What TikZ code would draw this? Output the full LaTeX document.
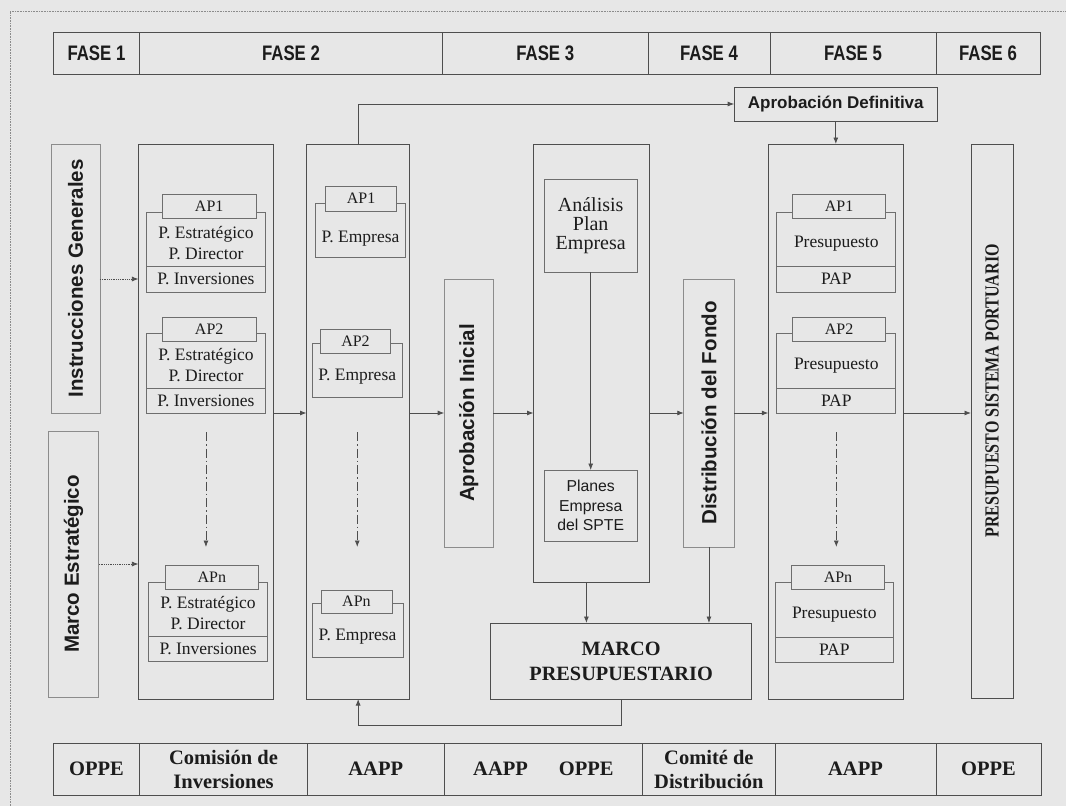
\documentclass[tikz,border=0pt]{standalone}
\usepackage{fontspec}
\setmainfont{Liberation Serif}
\setsansfont{Liberation Sans}
\newfontfamily\condsans[FakeStretch=0.8]{Liberation Sans}
\newfontfamily\condserif[FakeStretch=0.8]{Liberation Serif}
\usetikzlibrary{arrows.meta}

\definecolor{paper}{HTML}{E7E7E7}
\definecolor{ink}{HTML}{1C1C1C}
\definecolor{edge}{HTML}{4E4E4E}
\definecolor{softedge}{HTML}{6E6E6E}
\definecolor{paleedge}{HTML}{8C8C8C}

\tikzset{
  % rectangle given by its corners (x1,y1) (x2,y2)
  rect/.style n args={4}{rectangle, inner sep=0pt, outer sep=0pt,
    minimum width={#3pt-#1pt}, minimum height={#4pt-#2pt},
    at={({(#1+#3)/2},{(#2+#4)/2})}},
  cell/.style={draw=edge, line width=0.9pt, text=ink},
  column/.style={draw=edge, line width=0.9pt},
  pale/.style={draw=paleedge, line width=0.8pt},
  sub/.style={draw=softedge, line width=0.8pt, text=ink,
    font=\fontsize{17.5}{20.5}\selectfont},
  tabbox/.style={draw=softedge, fill=paper, line width=0.8pt,
    text=ink, font=\fontsize{16}{18}\selectfont},
  plan/.style={inner sep=0pt, align=center, text=ink,
    font=\fontsize{17.5}{20.5}\selectfont},
  hdr/.style={cell, font=\condsans\bfseries\fontsize{21}{24}\selectfont},
  who/.style={cell, align=center, font=\bfseries\fontsize{20.5}{24}\selectfont},
  vlab/.style={rotate=90, inner sep=0pt, text=ink,
    font=\sffamily\bfseries\fontsize{20.5}{24}\selectfont},
  flow/.style={draw=edge, line width=0.8pt, -{Latex[length=6.5pt,width=5pt]}},
  dotflow/.style={flow, densely dotted},
  dashflow/.style={flow, dash pattern=on 9pt off 3pt on 1.5pt off 3pt},
}

\begin{document}
\begin{tikzpicture}[x=1pt,y=-1pt]
\useasboundingbox (0,0) rectangle (1066,806);
\fill[paper] (0,0) rectangle (1066,806);
% dotted page frame
\draw[paleedge, densely dotted, line width=0.6pt] (10,806) -- (10,11) -- (1066,11);

% phase header
\node[hdr, rect={53.4}{32}{139.5}{74}] (h1) {FASE 1};
\node[hdr, rect={139.5}{32}{442.5}{74}] (h2) {FASE 2};
\node[hdr, rect={442.5}{32}{648}{74}] (h3) {FASE 3};
\node[hdr, rect={648}{32}{770}{74}] (h4) {FASE 4};
\node[hdr, rect={770}{32}{936}{74}] (h5) {FASE 5};
\node[hdr, rect={936}{32}{1040}{74}] (h6) {FASE 6};

% responsible bodies
\node[who, rect={53.4}{743}{139.5}{795}] (b1) {OPPE};
\node[who, rect={139.5}{743}{307.5}{795}] (b2) {Comisión de\\Inversiones};
\node[who, rect={307.5}{743}{444}{795}] (b3) {AAPP};
\node[who, rect={444}{743}{642.8}{795}] (b4) {AAPP\hspace{31pt}OPPE};
\node[who, rect={642.8}{743}{775}{795}] (b5) {Comité de\\Distribución};
\node[who, rect={775}{743}{936}{795}] (b6) {AAPP};
\node[who, rect={936}{743}{1041}{795}] (b7) {OPPE};

% phase 1 inputs
\node[pale, rect={51}{144}{99.9}{413}] (instr) {};
\node[vlab] (instr-t) at (instr.center) {Instrucciones Generales};
\node[pale, rect={48.2}{431}{98.8}{697}] (marco) {};
\node[vlab] (marco-t) at (marco.center) {Marco Estratégico};

% phase 2: plans of each port authority
\node[column, rect={138.4}{144}{273.8}{699}] (c2) {};
\node[sub, rect={146.7}{212}{265.2}{266}] (c2p1u) {};
\node[sub, rect={146.7}{266}{265.2}{292}] (c2p1l) {P. Inversiones};
\node[tabbox, rect={162.5}{194}{255.9}{218}] (c2p1t) {AP1};
\node[plan] (c2p1s) at (206,243) {P. Estratégico\\P. Director};

\node[sub, rect={146.7}{333}{265.2}{388}] (c2p2u) {};
\node[sub, rect={146.7}{388}{265.2}{413}] (c2p2l) {P. Inversiones};
\node[tabbox, rect={162.5}{317}{255.9}{341}] (c2p2t) {AP2};
\node[plan] (c2p2s) at (206,365) {P. Estratégico\\P. Director};

\node[sub, rect={148.8}{582}{267.6}{636}] (c2pnu) {};
\node[sub, rect={148.8}{636}{267.6}{661}] (c2pnl) {P. Inversiones};
\node[tabbox, rect={165.3}{565}{258.3}{589}] (c2pnt) {APn};
\node[plan] (c2pns) at (208,613) {P. Estratégico\\P. Director};

% phase 2: business plans
\node[column, rect={306.5}{144}{409.8}{699}] (c3) {};
\node[sub, rect={315.8}{203}{405.3}{257}] (c3p1) {};
\node[tabbox, rect={325.4}{186}{396.7}{211}] (c3p1t) {AP1};
\node[plan] (c3p1s) at (360.5,239) {P. Empresa};

\node[sub, rect={312.3}{343}{402.2}{397}] (c3p2) {};
\node[tabbox, rect={320.2}{329}{390.8}{353}] (c3p2t) {AP2};
\node[plan] (c3p2s) at (357.2,377) {P. Empresa};

\node[sub, rect={312.3}{603}{402.9}{657}] (c3pn) {};
\node[tabbox, rect={321}{590}{391.9}{613}] (c3pnt) {APn};
\node[plan] (c3pns) at (357.6,637) {P. Empresa};

% phase 3
\node[pale, rect={444.2}{279}{493.1}{547}] (aini) {};
\node[vlab] (aini-t) at (aini.center) {Aprobación Inicial};

\node[column, rect={533.5}{144}{649}{582}] (c4) {};
\node[sub, align=center, font=\fontsize{20}{19}\selectfont,
  rect={544.4}{179}{637}{272}] (anal) {Análisis\\Plan\\Empresa};
\node[sub, align=center, font=\sffamily\fontsize{15.8}{19.5}\selectfont,
  rect={544.4}{470}{637}{541}] (planes) {Planes\\Empresa\\del SPTE};

\node[cell, align=center, font=\bfseries\fontsize{20.3}{25}\selectfont,
  rect={490.7}{623}{751.5}{699}] (marcop) {MARCO\\PRESUPUESTARIO};

% phase 4
\node[pale, rect={683.8}{279}{734.1}{547}] (dist) {};
\node[vlab] (dist-t) at (dist.center) {Distribución del Fondo};

\node[cell, font=\sffamily\bfseries\fontsize{17}{20}\selectfont,
  rect={734.1}{87}{937.5}{121}] (adef) {Aprobación Definitiva};

% phase 5: budgets
\node[column, rect={768.3}{144}{903.3}{699}] (c5) {};
\node[sub, rect={776.8}{212}{895.8}{266}] (c5p1u) {};
\node[sub, rect={776.8}{266}{895.8}{292}] (c5p1l) {PAP};
\node[tabbox, rect={792.6}{194}{885.6}{218}] (c5p1t) {AP1};
\node[plan] (c5p1s) at (836.3,244) {Presupuesto};

\node[sub, rect={776.8}{333}{895.8}{388}] (c5p2u) {};
\node[sub, rect={776.8}{388}{895.8}{413}] (c5p2l) {PAP};
\node[tabbox, rect={792.6}{317}{885.6}{341}] (c5p2t) {AP2};
\node[plan] (c5p2s) at (836.3,366) {Presupuesto};

\node[sub, rect={775.1}{582}{893.4}{637}] (c5pnu) {};
\node[sub, rect={775.1}{637}{893.4}{662}] (c5pnl) {PAP};
\node[tabbox, rect={791.5}{565}{884.5}{589}] (c5pnt) {APn};
\node[plan] (c5pns) at (834.3,615) {Presupuesto};

% phase 6
\node[column, rect={971}{144}{1013.3}{698}] (c6) {};
\node[rotate=90, inner sep=0pt, text=ink,
  font=\condserif\bfseries\fontsize{20}{22}\selectfont]
  (c6-t) at (992.2,391) {PRESUPUESTO SISTEMA PORTUARIO};

% levels used by the connectors
\coordinate (fy) at (0,413);
\coordinate (fi) at (0,279);
\coordinate (fm) at (0,564);
\coordinate (ds) at (0,432);
\coordinate (de) at (0,547);
\coordinate (yret) at (0,725);
\coordinate (xc4) at (586.4,0);

% connectors
\draw[dotflow] (instr.east |- fi) -- (c2.west |- fi);
\draw[dotflow] (marco.east |- fm) -- (c2.west |- fm);
\draw[flow] (c2.east |- fy) -- (c3.west |- fy);
\draw[flow] (c3.east |- fy) -- (aini.west |- fy);
\draw[flow] (aini.east |- fy) -- (c4.west |- fy);
\draw[flow] (c4.east |- fy) -- (dist.west |- fy);
\draw[flow] (dist.east |- fy) -- (c5.west |- fy);
\draw[flow] (c5.east |- fy) -- (c6.west |- fy);
\draw[flow] (c3.north) |- (adef.west);
\draw[flow] (adef.south) -- (c5.north);
\draw[flow] (anal.south) -- (planes.north);
\draw[flow] (c4.south -| xc4) -- (marcop.north -| xc4);
\draw[flow] (dist.south) -- (dist.south |- marcop.north);
\draw[flow] (marcop.south) -- (marcop.south |- yret) -| (c3.south);

% continuation to the n-th port authority
\draw[dashflow] (c2p2l.south |- ds) -- (c2p2l.south |- de);
\draw[dashflow] (c3p2.south |- ds) -- (c3p2.south |- de);
\draw[dashflow] (c5p2l.south |- ds) -- (c5p2l.south |- de);
\end{tikzpicture}
\end{document}
